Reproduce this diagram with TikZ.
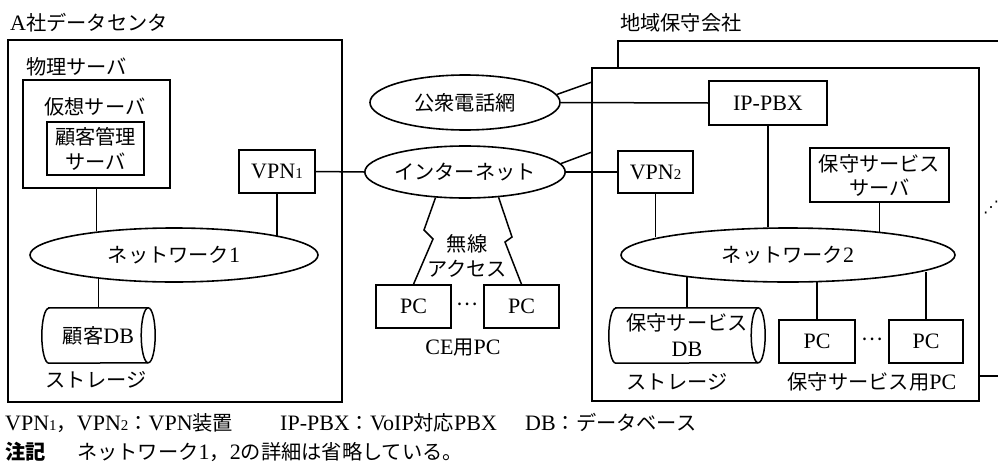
\documentclass[tikz,border=0pt]{standalone}
\usepackage{fontspec}
\setmainfont{Liberation Serif}
\newfontfamily\jp{Noto Sans CJK JP}[Scale=0.92]
\newfontfamily\dvs{DejaVu Sans}
\usetikzlibrary{shapes.geometric}
\newcommand\sbs[1]{{\fontsize{15}{15}\selectfont #1}}
\newcommand\cylout[1]{%
  \draw[ln] ([xshift=7pt]#1.north west) -- ([xshift=-7pt]#1.north east)
    arc[start angle=90,end angle=-90,x radius=7pt,y radius=27.5pt]
    -- ([xshift=7pt]#1.south west)
    arc[start angle=270,end angle=90,x radius=7pt,y radius=27.5pt] -- cycle;
  \draw[ln] ([xshift=-7pt]#1.north east)
    arc[start angle=90,end angle=270,x radius=7pt,y radius=27.5pt];}
\tikzset{
  ln/.style={line width=1.5pt},
  box/.style={draw, rectangle, inner sep=0pt, line width=1.5pt, align=center},
  ell/.style={draw, ellipse, inner sep=0pt, line width=1.6pt},
  txt/.style={inner sep=0pt, align=center},
  cyl/.style={rectangle, inner sep=0pt, align=center},
}
\begin{document}
\begin{tikzpicture}[x=1pt, y=-1pt, font=\fontsize{22}{26}\selectfont]
\useasboundingbox[fill=white] (0,0) rectangle (998,466);

% ---------- A社データセンタ ----------
\node[txt, anchor=base west] (tA) at (10,30) {A{\jp 社データセンタ}};
\node[box, minimum width=334pt, minimum height=362pt] (boxA) at (175,221) {};
\node[txt, anchor=base west] (tPhys) at (26,74) {\jp 物理サーバ};
\node[box, minimum width=147pt, minimum height=108pt] (vs) at (96.5,134) {};
\node[txt] (tVirt) at (95,107) {\jp 仮想サーバ};
\node[box, minimum width=97pt, minimum height=53pt] (cms) at (95.5,148.5) {\jp 顧客管理\\[-1pt]\jp サーバ};
\node[box, minimum width=76pt, minimum height=43pt] (vpn1) at (277,171.5) {VPN\sbs{1}};
\node[ell, minimum width=288pt, minimum height=54pt] (nw1) at (174,255) {{\jp ネットワーク}1};
\node[cyl, minimum width=113pt, minimum height=55pt] (db1) at (98.5,335.5) {{\jp 顧客}DB};
\cylout{db1}
\node[txt] (tSt1) at (96,380) {\jp ストレージ};

% ---------- middle ----------
\node[ell, minimum width=190pt, minimum height=55pt] (pstn) at (465,102.5) {\jp 公衆電話網};
\node[ell, minimum width=190pt, minimum height=52pt] (inet) at (465,172) {\jp インターネット};
\node[txt] (tMusen) at (467,255.5) {\jp 無線\\[-1pt]\jp アクセス};
\node[box, minimum width=75pt, minimum height=43pt] (pc1) at (413.5,306.5) {PC};
\node[box, minimum width=75pt, minimum height=43pt] (pc2) at (521.5,306.5) {PC};
\node[txt] (tDots1) at (467,304) {\jp …};
\node[txt] (tCE) at (463,348) {CE{\jp 用}PC};

% ---------- 地域保守会社 ----------
\node[txt, anchor=base west] (tB) at (620,30) {\jp 地域保守会社};
\draw[ln] (618,68) |- (998,41);
\draw[ln] (979,376) -- (998,376);
\node[box, minimum width=387pt, minimum height=333pt] (fr) at (785.5,234.5) {};
\node[box, minimum width=118pt, minimum height=44pt] (pbx) at (768,103) {IP-PBX};
\node[box, minimum width=75pt, minimum height=42pt] (vpn2) at (655.5,172) {VPN\sbs{2}};
\node[box, minimum width=139pt, minimum height=54pt] (mss) at (879.5,175) {\jp 保守サービス\\[-2pt]\jp サーバ};
\node[ell, minimum width=334pt, minimum height=54pt] (nw2) at (788,255) {{\jp ネットワーク}2};
\node[cyl, minimum width=156pt, minimum height=55pt] (db2) at (687,335.5) {\jp 保守サービス\\[0pt]DB};
\cylout{db2}
\node[txt] (tSt2) at (677,382) {\jp ストレージ};
\node[box, minimum width=76pt, minimum height=43pt] (pc3) at (817,341.5) {PC};
\node[box, minimum width=74pt, minimum height=43pt] (pc4) at (926,341.5) {PC};
\node[txt] (tDots2) at (872,339) {\jp …};
\node[txt] (tUse) at (872,382) {{\jp 保守サービス用}PC};
\node[txt, font=\dvs\fontsize{16}{16}\selectfont] (tMore) at (991,208) {⋰};

\coordinate (e1) at (592,82);
\coordinate (e2) at (592,152);

% ---------- connectors ----------
\draw[ln] (vs.south) -- (vs.south |- nw1.163.6);
\draw[ln] (vpn1.south) -- (vpn1.south |- nw1.10.4);
\draw[ln] (db1.north) -- (db1.north |- nw1.196.9);
\draw[ln] (vpn1.east) -- (inet.west);
\draw[ln] (inet.east) -- (vpn2.west);
\draw[ln] (pstn.east) -- (pbx.west);
\draw[ln] (pstn.5) -- (e1);
\draw[ln] (inet.5) -- (e2);
\draw[ln, line join=miter] (inet.221.5) -- (424,230) -- (433,239) -- (pc1.north);
\draw[ln, line join=miter] (inet.323.5) -- (512,237) -- (505,242) -- (pc2.north);
\draw[ln] (vpn2.south) -- (vpn2.south |- nw2.172.9);
\draw[ln] (pbx.south) -- (pbx.south |- nw2.126.7);
\draw[ln] (mss.south) -- (mss.south |- nw2.13.87);
\draw[ln] (db2.north) -- (db2.north |- nw2.192.0);
\draw[ln] (pc3.north) -- (pc3.north |- nw2.317.5);
\draw[ln] (pc4.north) -- (pc4.north |- nw2.353.7);

% ---------- legend ----------
\node[txt, anchor=base west] (lg1) at (5,430) {VPN\sbs{1}{\jp ，}VPN\sbs{2}{\jp ：}VPN{\jp 装置}};
\node[txt, anchor=base west] (lg2) at (280,430) {IP-PBX{\jp ：}VoIP{\jp 対応}PBX};
\node[txt, anchor=base west] (lg3) at (525,430) {DB{\jp ：データベース}};
\node[txt, anchor=base west] (lg4) at (5,459) {\jp\bfseries 注記};
\node[txt, anchor=base west] (lg5) at (77,459) {{\jp ネットワーク}1{\jp ，}2{\jp の詳細は省略している。}};
\end{tikzpicture}
\end{document}
